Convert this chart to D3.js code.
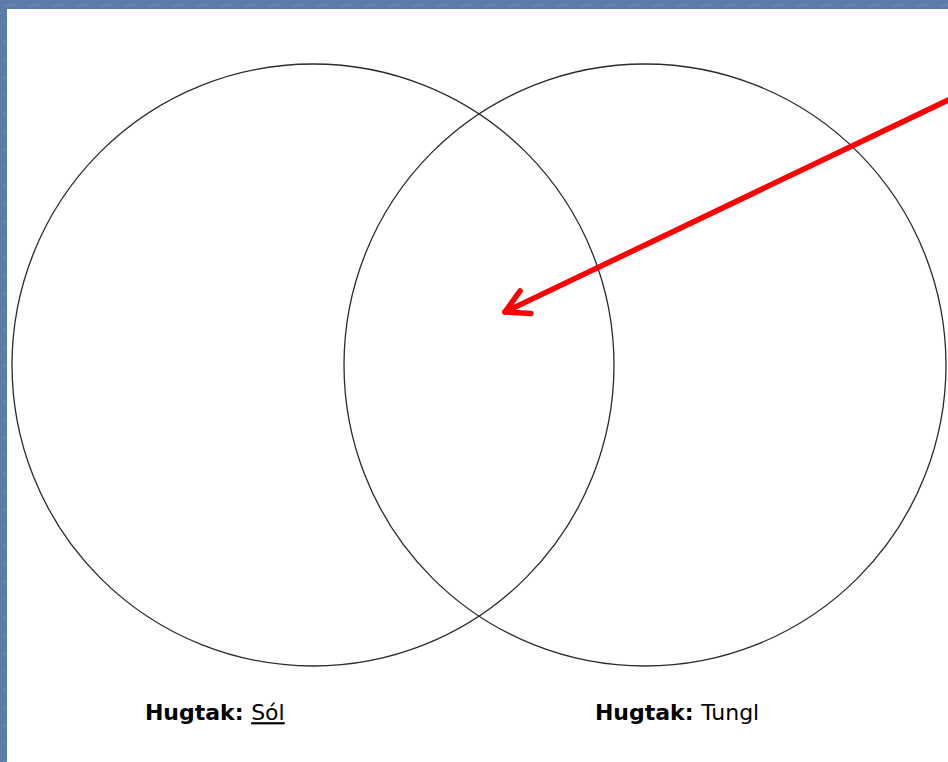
<!DOCTYPE html>
<html>
<head>
<meta charset="utf-8">
<script src="https://cdn.jsdelivr.net/npm/d3@7"></script>
<style>
	html, body { margin: 0; padding: 0; background: #5b7ca6; overflow: hidden; }
	svg { display: block; }
</style>
</head>
<body>
<div id="content"></div>
<script>
// sets of the diagram (unit space, radius 1)
var setNames = ["Sól", "Tungl"];
var setLabel = "Hugtak:";
var setUnderline = [true, false];
var setCenters = [-0.5515, 0.5515];
var setRadius = [1, 1];
var labelX = [-1.11, 0.385];

// arrow: from outside the slide into the shared region
var arrowFrom = [1.6, -0.9];
var arrowTo = [0.086, -0.176];

var width = 948, height = 762;

var svg = d3.select("#content").append("svg")
	.attr("width", width).attr("height", height);

// slide background texture
var defs = svg.append("defs");
var pat = defs.append("pattern").attr("id", "tex")
	.attr("width", 24).attr("height", 18).attr("patternUnits", "userSpaceOnUse");
pat.append("rect").attr("width", 24).attr("height", 18).attr("fill", "#5b7ca6");
pat.append("rect").attr("x", 3).attr("y", 4).attr("width", 14).attr("height", 3).attr("fill", "#6687b0").attr("opacity", 0.6);
pat.append("rect").attr("x", 10).attr("y", 12).attr("width", 12).attr("height", 3).attr("fill", "#52739c").attr("opacity", 0.6);

svg.append("rect").attr("width", width).attr("height", height).attr("fill", "url(#tex)");

// white page
svg.append("rect").attr("x", 7).attr("y", 9)
	.attr("width", width).attr("height", height)
	.attr("fill", "#ffffff");

var x = d3.scaleLinear().domain([-1, 1]).range([178, 780]);
var y = d3.scaleLinear().domain([-1, 1]).range([64, 666]);
var rScale = d3.scaleLinear().domain([0, 1]).range([0, 301]);

var g = svg.append("g");

g.selectAll("circle.set")
	.data(setNames)
	.enter()
	.append("circle")
	.attr("class", "set")
	.attr("cx", function (d, i) { return x(setCenters[i]); })
	.attr("cy", y(0))
	.attr("r", function (d, i) { return rScale(setRadius[i]); })
	.attr("fill", "none")
	.attr("stroke", "#2b2b2b")
	.attr("stroke-width", 1.3);

// labels
var labels = g.selectAll("text.label")
	.data(setNames)
	.enter()
	.append("text")
	.attr("class", "label")
	.attr("x", function (d, i) { return x(labelX[i]); })
	.attr("y", y(1.18))
	.style("font-family", "'Comic Sans MS', 'DejaVu Sans', sans-serif")
	.style("font-size", "22px")
	.style("fill", "#000");

labels.append("tspan")
	.style("font-weight", "bold")
	.text(setLabel + " ");
labels.append("tspan")
	.style("text-decoration", function (d, i) { return setUnderline[i] ? "underline" : "none"; })
	.text(function (d) { return d; });

// red arrow
var x1 = x(arrowFrom[0]), y1 = y(arrowFrom[1]);
var x2 = x(arrowTo[0]), y2 = y(arrowTo[1]);
var ang = Math.atan2(y2 - y1, x2 - x1);
var head = 26, spread = 0.5;

var arrow = g.append("g")
	.attr("stroke", "#ff0000")
	.attr("stroke-width", 5.5)
	.attr("stroke-linecap", "round")
	.attr("fill", "none");

arrow.append("line")
	.attr("x1", x1).attr("y1", y1)
	.attr("x2", x2).attr("y2", y2);

arrow.append("path")
	.attr("stroke-linejoin", "round")
	.attr("d", d3.line()([
		[x2 - head * Math.cos(ang - spread), y2 - head * Math.sin(ang - spread)],
		[x2, y2],
		[x2 - head * Math.cos(ang + spread), y2 - head * Math.sin(ang + spread)]
	]));
</script>
</body>
</html>
